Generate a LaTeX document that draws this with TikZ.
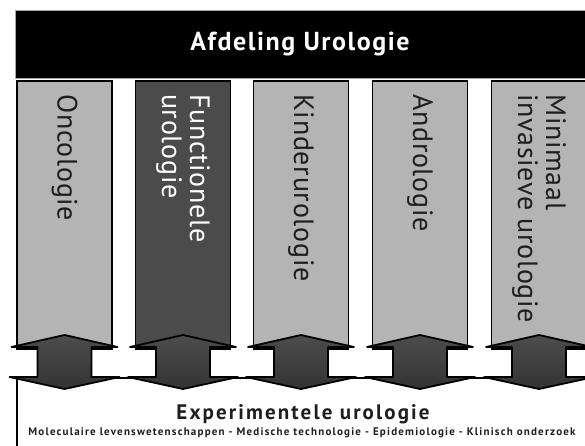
\documentclass[tikz,border=0pt]{standalone}
\usepackage{fontspec}
\setmainfont{PT Sans}
\definecolor{colgray}{HTML}{B4B4B4}
\definecolor{coldark}{HTML}{4B4B4B}
\definecolor{coltxt}{HTML}{1E1E1E}
\begin{document}
\begin{tikzpicture}[x=1pt,y=-1pt,
  colbox/.style={draw=black,line width=1.6pt,minimum width=95pt,minimum height=268pt,anchor=north,inner sep=0pt},
  coltext/.style={rotate=-90,anchor=west,font=\fontsize{28}{28}\selectfont\addfontfeature{LetterSpace=2.5},text=coltxt,align=left,inner sep=0pt},
  arrowline/.style={draw=black,line width=1.8pt,line join=round},
]
\useasboundingbox (0,0) rectangle (585,446);
\clip (0,0) rectangle (585,446);
% header
\node[fill=black,draw=gray!70,line width=0.8pt,minimum width=600pt,minimum height=68pt,anchor=north west,inner sep=0pt] (hdr) at (15,10) {};
\node[text=white,font=\fontsize{26}{26}\selectfont\bfseries\addfontfeature{LetterSpace=6}] (title) at (300,44) {Afdeling Urologie};
% columns
\node[colbox,fill=colgray] (c1) at (64.5,80) {};
\node[colbox,fill=coldark] (c2) at (183,80) {};
\node[colbox,fill=colgray] (c3) at (301,80) {};
\node[colbox,fill=colgray] (c4) at (420,80) {};
\node[colbox,fill=colgray] (c5) at (539,80) {};
\node[coltext] (t1) at (64.5,94) {Oncologie};
\node[coltext,text=white] (t2) at (183,94) {Functionele\\urologie};
\node[coltext] (t3) at (301,94) {Kinderurologie};
\node[coltext] (t4) at (420,94) {Andrologie};
\node[coltext] (t5) at (539,94) {Minimaal\\invasieve urologie};
% bottom box
\node[draw=black,fill=white,line width=1.6pt,minimum width=600pt,minimum height=90pt,anchor=north west,inner sep=0pt] (exp) at (16,377) {};
\node[font=\fontsize{21}{21}\selectfont\bfseries\addfontfeature{LetterSpace=10},text=coltxt,anchor=base] (exptitle) at (303,419) {Experimentele urologie};
\node[font=\fontsize{11}{11}\selectfont\bfseries\addfontfeature{LetterSpace=11},text=coltxt,anchor=base] (expsub) at (302,435) {Moleculaire levenswetenschappen - Medische technologie - Epidemiologie - Klinisch onderzoek};
% arrows
\foreach \c/\mc in {64.5/black!45, 183/black!40, 301/black!40, 420/black!35, 539/black!18}{
  \shade[top color=black!70,middle color=\mc,bottom color=black!80]
    (\c-27,347) -- (\c-53,347) -- (\c,335) -- (\c+53,347) -- (\c+27,347) -- (\c+27,377) -- (\c+55,377) -- (\c,389) -- (\c-55,377) -- (\c-27,377) -- cycle;
  \draw[arrowline]
    (\c-27,347) -- (\c-53,347) -- (\c,335) -- (\c+53,347) -- (\c+27,347) -- (\c+27,377) -- (\c+55,377) -- (\c,389) -- (\c-55,377) -- (\c-27,377) -- cycle;
}
\end{tikzpicture}
\end{document}
